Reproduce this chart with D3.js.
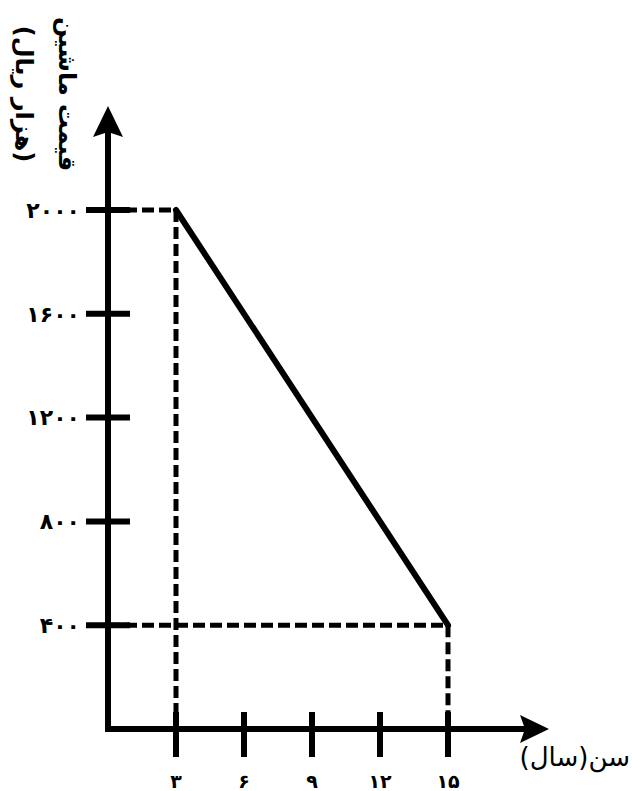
<!DOCTYPE html>
<html>
<head>
<meta charset="utf-8">
<script src="https://cdn.jsdelivr.net/npm/d3@7"></script>
<style>
  html, body { margin: 0; padding: 0; background: #fff; }
  svg { display: block; }
  text { font-family: "DejaVu Sans", sans-serif; fill: #000; }
</style>
</head>
<body>
<svg width="632" height="791"></svg>
<script>
// age (years) vs car price (thousand rials)
var ages = [3, 6, 9, 12, 15];
var ageLabels = ["۳", "۶", "۹", "۱۲", "۱۵"];
var prices = [400, 800, 1200, 1600, 2000];
var priceLabels = ["۴۰۰", "۸۰۰", "۱۲۰۰", "۱۶۰۰", "۲۰۰۰"];
var depreciation = [[3, 2000], [15, 400]];
var xTitle = "سن(سال)";
var yTitle = ["قیمت ماشین", "(هزار ریال)"];

var svg = d3.select("svg");

var x = d3.scaleLinear().domain([0, 15]).range([108, 448]);
var y = d3.scaleLinear().domain([0, 2000]).range([729, 210]);

var sw = 6;
var tick = 22;

// dashed guides
var guides = [
  [[0, 2000], [3, 2000]],
  [[3, 2000], [3, 0]],
  [[0, 400], [15, 400]],
  [[15, 400], [15, 0]]
];
var line = d3.line().x(d => x(d[0])).y(d => y(d[1]));

svg.append("g")
  .selectAll("path")
  .data(guides)
  .enter()
  .append("path")
  .attr("d", d => {
    // vertical guides run down to the bottom of the tick
    var p = line(d);
    if (d[0][0] == d[1][0]) p += "L" + x(d[1][0]) + "," + (y(0) + tick);
    return p;
  })
  .attr("fill", "none")
  .attr("stroke", "#000")
  .attr("stroke-width", 5)
  .attr("stroke-dasharray", "12,5");

// axes
svg.append("line")
  .attr("x1", x(0)).attr("y1", y(0) + sw / 2)
  .attr("x2", x(0)).attr("y2", 125)
  .attr("stroke", "#000").attr("stroke-width", sw);
svg.append("path")
  .attr("d", `M${x(0)},106 L${x(0) - 15},137 L${x(0)},132 L${x(0) + 15},137 Z`)
  .attr("fill", "#000");

svg.append("line")
  .attr("x1", x(0) - sw / 2).attr("y1", y(0))
  .attr("x2", 530).attr("y2", y(0))
  .attr("stroke", "#000").attr("stroke-width", sw);
svg.append("path")
  .attr("d", `M549,${y(0)} L520,${y(0) - 14} L525,${y(0)} L520,${y(0) + 14} Z`)
  .attr("fill", "#000");

// y ticks
svg.append("g")
  .selectAll("line")
  .data(prices)
  .enter()
  .append("line")
  .attr("x1", x(0) - tick).attr("x2", x(0) + tick)
  .attr("y1", d => y(d)).attr("y2", d => y(d))
  .attr("stroke", "#000").attr("stroke-width", sw);

svg.append("g")
  .selectAll("text")
  .data(prices)
  .enter()
  .append("text")
  .attr("x", 80)
  .attr("y", d => y(d))
  .attr("dy", "0.35em")
  .attr("text-anchor", "end")
  .style("font-size", "22px")
  .style("font-weight", "bold")
  .style("letter-spacing", "3px")
  .attr("direction", "ltr")
  .text((d, i) => priceLabels[i]);

// x ticks
svg.append("g")
  .selectAll("line")
  .data(ages)
  .enter()
  .append("line")
  .attr("x1", d => x(d)).attr("x2", d => x(d))
  .attr("y1", y(0) - tick + 5).attr("y2", y(0) + tick + 6)
  .attr("stroke", "#000").attr("stroke-width", sw);

svg.append("g")
  .selectAll("text")
  .data(ages)
  .enter()
  .append("text")
  .attr("x", d => x(d))
  .attr("y", 788)
  .attr("text-anchor", "middle")
  .attr("direction", "ltr")
  .style("font-size", "19px")
  .style("font-weight", "bold")
  .text((d, i) => ageLabels[i]);

// main line
svg.append("path")
  .datum(depreciation)
  .attr("d", line)
  .attr("fill", "none")
  .attr("stroke", "#000")
  .attr("stroke-width", sw)
  .attr("stroke-linecap", "round");

// titles
svg.append("text")
  .attr("x", 630)
  .attr("y", 766)
  .attr("text-anchor", "end")
  .style("font-size", "26px")
  .text(xTitle);

var yt = svg.append("g").attr("transform", "translate(67,94) rotate(90)");
yt.selectAll("text")
  .data(yTitle)
  .enter()
  .append("text")
  .attr("x", 0)
  .attr("y", (d, i) => i * 43)
  .attr("dy", "0.35em")
  .attr("text-anchor", "middle")
  .style("font-size", "24px")
  .style("font-weight", "bold")
  .text(d => d);
</script>
</body>
</html>
